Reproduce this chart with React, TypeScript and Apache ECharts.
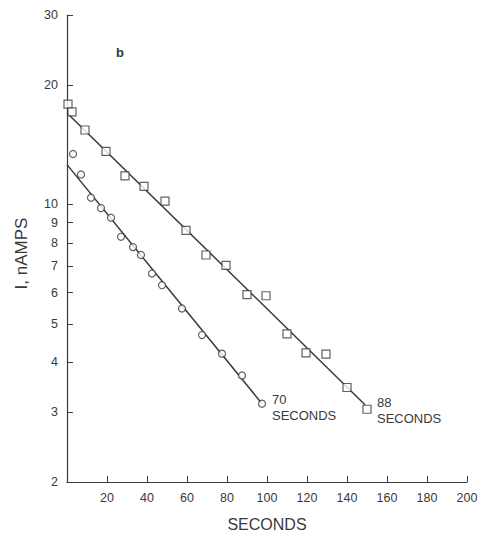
import React, { useEffect, useRef } from "react";
import * as echarts from "echarts";

const squareX = [0.5, 2.5, 9, 19.5, 29, 38.5, 49, 59.5, 69.5, 79.5, 90, 99.5, 110, 119.5, 129.5, 140, 150];
const squareY = [17.9, 17.1, 15.4, 13.6, 11.8, 11.1, 10.2, 8.6, 7.46, 7.02, 5.93, 5.89, 4.72, 4.23, 4.2, 3.46, 3.05];

const circleX = [3, 7, 12, 17, 22, 27, 33, 37, 42.5, 47.5, 57.5, 67.5, 77.5, 87.5, 97.5];
const circleY = [13.4, 11.9, 10.4, 9.79, 9.26, 8.29, 7.81, 7.46, 6.7, 6.26, 5.47, 4.69, 4.21, 3.71, 3.15];

const fit88X = [0, 149];
const fit88Y = [17.0, 3.13];
const fit70X = [0, 97.5];
const fit70Y = [12.6, 3.15];

const yTicks = [2, 3, 4, 5, 6, 7, 8, 9, 10, 20, 30];
const xLabels = [20, 40, 60, 80, 100, 120, 140, 160, 180, 200];

const INK = "#3a3a3a";
const FONT = "Liberation Sans";

function pairs(xs: number[], ys: number[]) {
  return xs.map((x, i) => [x, ys[i]]);
}

export default function App() {
  const ref = useRef<HTMLDivElement>(null);
  useEffect(() => {
    if (!ref.current) return;
    const chart = echarts.init(ref.current, undefined, { renderer: "svg" });
    const fit88 = pairs(fit88X, fit88Y);
    const fit70 = pairs(fit70X, fit70Y);
    chart.setOption({
      animation: false,
      backgroundColor: "#ffffff",
      grid: { left: 67, top: 15, width: 400, height: 469, containLabel: false },
      xAxis: {
        type: "value",
        min: 0,
        max: 200,
        interval: 20,
        name: "SECONDS",
        nameLocation: "middle",
        nameGap: 34,
        nameTextStyle: { color: INK, fontFamily: FONT, fontSize: 16 },
        axisLine: { show: true, lineStyle: { color: INK, width: 1.2 } },
        axisTick: { show: true, inside: true, length: 6, lineStyle: { color: INK } },
        axisLabel: {
          color: INK,
          fontFamily: FONT,
          fontSize: 12.5,
          margin: 9,
          formatter: (v: number) => (xLabels.indexOf(v) >= 0 ? String(v) : ""),
        },
        splitLine: { show: false },
      },
      yAxis: {
        type: "log",
        logBase: 10,
        min: 2,
        max: 30,
        name: "I, nAMPS",
        nameLocation: "middle",
        nameRotate: 90,
        nameGap: 37,
        nameTextStyle: { color: INK, fontFamily: FONT, fontSize: 17, padding: [0, 10, 0, 0] },
        axisLine: { show: true, lineStyle: { color: INK, width: 1.2 } },
        axisTick: { show: true, inside: true, length: 6, customValues: yTicks, lineStyle: { color: INK } },
        axisLabel: {
          color: INK,
          fontFamily: FONT,
          fontSize: 12.5,
          margin: 9,
          customValues: yTicks,
          formatter: (v: number) => String(Math.round(v)),
        },
        splitLine: { show: false },
        minorTick: { show: false },
      },
      graphic: [
        {
          type: "text",
          left: 116,
          top: 46,
          style: { text: "b", fill: INK, font: "bold 13px " + FONT },
        },
      ],
      series: [
        {
          type: "line",
          data: fit88,
          showSymbol: false,
          symbol: "none",
          lineStyle: { color: INK, width: 1.5 },
          z: 2,
          label: { show: false },
          endLabel: {
            show: true,
            formatter: "88\nSECONDS",
            color: INK,
            fontFamily: FONT,
            fontSize: 13,
            lineHeight: 16,
            align: "left",
            distance: 12,
            offset: [0, 6],
          },
        },
        {
          type: "line",
          data: fit70,
          showSymbol: false,
          symbol: "none",
          lineStyle: { color: INK, width: 1.5 },
          z: 2,
          endLabel: {
            show: true,
            formatter: "70\nSECONDS",
            color: INK,
            fontFamily: FONT,
            fontSize: 13,
            lineHeight: 16,
            align: "left",
            distance: 10,
            offset: [0, 4],
          },
        },
        {
          type: "scatter",
          data: pairs(squareX, squareY),
          symbol: "rect",
          symbolSize: 8,
          itemStyle: { color: "#ffffff", borderColor: INK, borderWidth: 1.2 },
          z: 3,
        },
        {
          type: "scatter",
          data: pairs(circleX, circleY),
          symbol: "circle",
          symbolSize: 7,
          itemStyle: { color: "#ffffff", borderColor: INK, borderWidth: 1.2 },
          z: 3,
        },
      ],
    });
    return () => chart.dispose();
  }, []);
  return (
    <div
      ref={ref}
      style={{ position: "fixed", left: 0, top: 0, width: 484, height: 537, background: "#fff" }}
    />
  );
}
